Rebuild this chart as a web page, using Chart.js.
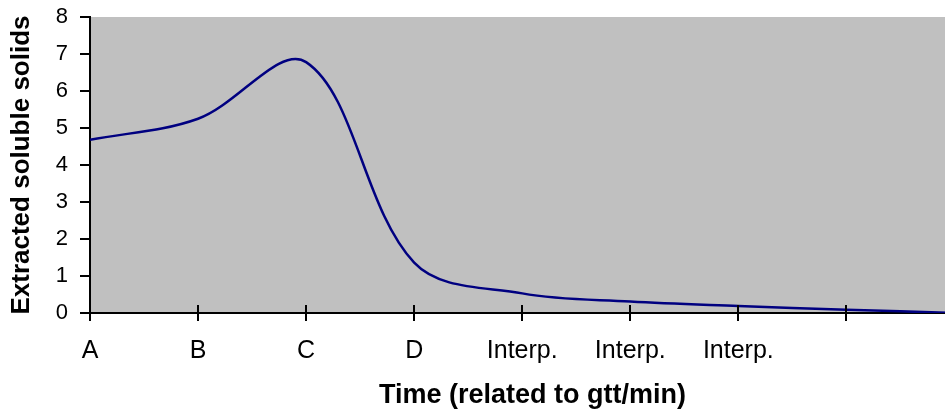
<!DOCTYPE html>
<html>
<head>
<meta charset="utf-8">
<script src="https://cdn.jsdelivr.net/npm/chart.js@4"></script>
<style>
  html, body { margin: 0; padding: 0; background: #ffffff; overflow: hidden; width: 945px; height: 414px; }
  #wrap { width: 975px; height: 414px; position: relative; }
</style>
</head>
<body>
<div id="wrap"><canvas id="c"></canvas></div>
<script>
// Category tick labels (one per tick position)
const tickLabels = ['A', 'B', 'C', 'D', 'Interp.', 'Interp.', 'Interp.', '', ''];
// Data positions (in tick units) and values
const xPositions = [0, 1, 2, 3, 4, 5, 6, 7, 8];
const solids = [4.68, 5.25, 6.78, 1.36, 0.53, 0.31, 0.19, 0.09, 0.0];
const yTicks = [0, 1, 2, 3, 4, 5, 6, 7, 8];

const points = xPositions.map((x, i) => ({ x: x, y: solids[i] }));

const FONT = 'Liberation Sans, Arial, Helvetica, sans-serif';

const bgPlugin = {
  id: 'plotBg',
  beforeDraw(chart) {
    const { ctx, chartArea: a } = chart;
    ctx.save();
    ctx.fillStyle = '#C0C0C0';
    ctx.fillRect(a.left, a.top, a.right - a.left, a.bottom - a.top);
    ctx.restore();
  },
  afterDraw(chart) {
    // inner half of x ticks (ticks cross the axis)
    const { ctx, chartArea: a } = chart;
    const xs = chart.scales.x;
    ctx.save();
    ctx.strokeStyle = '#000000';
    ctx.lineWidth = 2;
    xs.ticks.forEach(t => {
      const px = Math.round(xs.getPixelForValue(t.value));
      ctx.beginPath();
      ctx.moveTo(px, a.bottom);
      ctx.lineTo(px, a.bottom - 8);
      ctx.stroke();
    });
    ctx.restore();
  }
};

new Chart(document.getElementById('c'), {
  type: 'line',
  data: {
    datasets: [{
      data: points,
      borderColor: '#000080',
      borderWidth: 2.5,
      pointRadius: 0,
      tension: 0.35,
      fill: false
    }]
  },
  options: {
    responsive: true,
    maintainAspectRatio: false,
    animation: false,
    layout: { padding: { top: 17, right: 0, left: 0, bottom: 0 } },
    plugins: { legend: { display: false }, tooltip: { enabled: false } },
    scales: {
      x: {
        type: 'linear',
        min: 0,
        max: 8.19,
        afterFit(s) { s.height = 101; s.paddingLeft = 0; s.paddingRight = 0; },
        grid: { drawOnChartArea: false, drawTicks: true, tickLength: 8, color: '#000000', lineWidth: 2 },
        border: { display: true, color: '#000000', width: 2 },
        ticks: {
          stepSize: 1,
          includeBounds: false,
          autoSkip: false,
          maxRotation: 0,
          padding: 15,
          color: '#000000',
          font: { family: FONT, size: 25 },
          callback: (v) => (Number.isInteger(v) && v >= 0 && v < tickLabels.length) ? tickLabels[v] : ''
        },
        title: {
          display: true,
          text: 'Time (related to gtt/min)',
          color: '#000000',
          font: { family: FONT, size: 27, weight: 'bold' },
          padding: { top: 0, bottom: 2 }
        }
      },
      y: {
        min: 0,
        max: 8,
        afterFit(s) { s.width = 90; s.paddingTop = 0; s.paddingBottom = 0; },
        grid: { drawOnChartArea: false, drawTicks: true, tickLength: 10, color: '#000000', lineWidth: 2 },
        border: { display: true, color: '#000000', width: 2 },
        afterBuildTicks(s) { s.ticks = yTicks.map(v => ({ value: v })); },
        ticks: {
          padding: 12,
          color: '#000000',
          font: { family: FONT, size: 22 }
        },
        title: {
          display: true,
          text: 'Extracted soluble solids',
          color: '#000000',
          font: { family: FONT, size: 26, weight: 'bold' },
          padding: { top: 6, bottom: 0 }
        }
      }
    }
  },
  plugins: [bgPlugin]
});
</script>
</body>
</html>
